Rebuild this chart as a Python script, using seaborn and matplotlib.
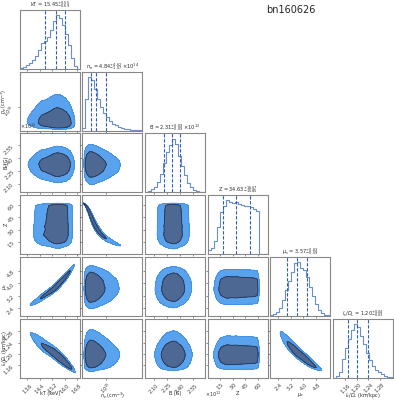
import numpy as np
import matplotlib
matplotlib.use("Agg")
import matplotlib.pyplot as plt
import seaborn as sns
from matplotlib.ticker import FixedLocator, NullLocator, ScalarFormatter, LogFormatterMathtext

# ------------------------------------------------------------------
# Values
# ------------------------------------------------------------------
axis_labels = ["kT (keV)", r"$n_{\rm e}$ (cm$^{-3}$)", "B (G)", "Z",
               r"$\mu_{\rm c}$", r"$l_{\rm c}/D_{\rm L}$ (km/kpc)"]
title_names = ["kT", r"$n_{\rm e}$", "B", "Z", r"$\mu_{\rm c}$", r"$l_{\rm c}/D_{\rm L}$"]

kT_range = [13.10, 16.97]
kT_counts = [20, 40, 80, 120, 170, 250, 350, 480, 520, 600,
             720, 900, 1000, 950, 820, 660, 450, 200, 60, 10]
kT_median_err = [15.45, 0.69, 0.55]
kT_ticks = [13.6, 14.4, 15.2, 16.0, 16.8]

ne_log_range = [14.25, 16.12]
ne_counts = [50, 600, 1000, 950, 780, 600, 450, 330, 250, 180,
             130, 100, 70, 50, 40, 30, 20, 15, 10, 5]
ne_median_err = [4.84, 1.57, 4.62]   # in units of 1e14
ne_exp = 14
ne_ticks = [1e15]

B_range = [2.00e12, 2.69e12]
B_counts = [10, 30, 60, 100, 200, 350, 550, 750, 880, 1000,
            900, 680, 500, 320, 180, 100, 50, 20, 10, 5]
B_median_err = [2.31, 0.09, 0.09]    # in units of 1e12
B_exp = 12
B_ticks = [2.10e12, 2.25e12, 2.40e12, 2.55e12]

Z_range = [0.0, 72.0]
Z_counts = [80, 120, 250, 500, 780, 900, 1000, 970, 950, 980,
            930, 920, 900, 890, 880, 850, 800, 0, 0, 0]
Z_median_err = [34.63, 15.85, 16.57]
Z_ticks = [15, 30, 45, 60]

mu_range = [1.89, 5.70]
mu_counts = [10, 40, 80, 150, 300, 480, 650, 820, 980, 1000,
             900, 860, 720, 540, 370, 230, 110, 50, 20, 10]
mu_median_err = [3.57, 0.59, 0.63]
mu_ticks = [2.4, 3.2, 4.0, 4.8]

lD_range = [1.117, 1.325]
lD_counts = [0, 30, 100, 350, 550, 720, 880, 1000, 950, 780,
             620, 450, 320, 220, 150, 100, 60, 30, 15, 5]
lD_median_err = [1.20, 0.03, 0.04]
lD_ticks = [1.16, 1.20, 1.24, 1.28]

# pairwise correlations (row, col) of the lower-triangle panels
pair_corr = {(1, 0): -0.05,
             (2, 0): 0.0, (2, 1): -0.05,
             (3, 0): 0.02, (3, 1): -0.985, (3, 2): 0.0,
             (4, 0): 0.976, (4, 1): 0.0, (4, 2): 0.02, (4, 3): 0.0,
             (5, 0): -0.94, (5, 1): 0.0, (5, 2): 0.0, (5, 3): 0.0, (5, 4): -0.946}

contour_mass = [0.62, 0.90]   # enclosed probability of the two contours

# ------------------------------------------------------------------
HIST_C = "#6a8fcf"
QLINE_C = "#2f5fb0"
LIGHT_C = "#59a3ee"
LEDGE_C = "#3b8ae0"
DARK_C = "#4d6892"
OUT_C = "#223659"
FRAME_C = "#888888"

sns.set_theme(style="ticks")
plt.rcParams['font.family'] = ['DejaVu Sans']
plt.rcParams['mathtext.fontset'] = 'dejavusans'

variables = [
    dict(rng=kT_range, counts=kT_counts, q=kT_median_err, scale=1.0, exp=None, ticks=kT_ticks, log=False),
    dict(rng=ne_log_range, counts=ne_counts, q=ne_median_err, scale=10.0 ** ne_exp, exp=ne_exp, ticks=ne_ticks, log=True),
    dict(rng=B_range, counts=B_counts, q=B_median_err, scale=10.0 ** B_exp, exp=B_exp, ticks=B_ticks, log=False),
    dict(rng=Z_range, counts=Z_counts, q=Z_median_err, scale=1.0, exp=None, ticks=Z_ticks, log=False),
    dict(rng=mu_range, counts=mu_counts, q=mu_median_err, scale=1.0, exp=None, ticks=mu_ticks, log=False),
    dict(rng=lD_range, counts=lD_counts, q=lD_median_err, scale=1.0, exp=None, ticks=lD_ticks, log=False),
]
K = len(variables)

# standard normal CDF table (for the Gaussian copula of the 2-D panels)
z_tab = np.linspace(-6, 6, 3001)
phi_tab = np.cumsum(np.exp(-0.5 * z_tab ** 2))
phi_tab /= phi_tab[-1]

NG = 180


def marginal(v):
    lo, hi = v['rng']
    n = len(v['counts'])
    edges = np.linspace(lo, hi, n + 1)
    centers = 0.5 * (edges[1:] + edges[:-1])
    g = np.linspace(lo, hi, NG)
    f = np.interp(g, np.r_[lo, centers, hi], np.r_[0.0, np.asarray(v['counts'], float), 0.0])
    F = np.cumsum(f)
    F /= F[-1]
    F = np.clip(F, 1e-9, 1 - 1e-9)
    u = np.interp(F, phi_tab, z_tab)
    plot_g = 10.0 ** g if v['log'] else g
    return plot_g, f, u


margs = [marginal(v) for v in variables]


def lims(v):
    lo, hi = v['rng']
    return (10.0 ** lo, 10.0 ** hi) if v['log'] else (lo, hi)


def style_axis(axis, v, show_labels):
    if v['log']:
        axis.set_major_locator(FixedLocator(v['ticks']))
        axis.set_major_formatter(LogFormatterMathtext())
        axis.set_minor_locator(NullLocator())
    else:
        axis.set_major_locator(FixedLocator(v['ticks']))
        fmt = ScalarFormatter(useMathText=True)
        axis.set_major_formatter(fmt)
    if not show_labels:
        axis.set_ticklabels([])
        axis.offsetText.set_visible(False)
    else:
        axis.offsetText.set_fontsize(3.5)


fig, axes = plt.subplots(K, K, figsize=(3.94, 4.0), dpi=100)
fig.subplots_adjust(left=0.05, right=0.997, bottom=0.056, top=0.975, wspace=0.045, hspace=0.045)

for i in range(K):
    for j in range(K):
        ax = axes[i, j]
        if j > i:
            ax.set_visible(False)
            continue
        vx = variables[j]
        if i == j:
            lo, hi = vx['rng']
            n = len(vx['counts'])
            edges = np.linspace(lo, hi, n + 1)
            centers = 0.5 * (edges[1:] + edges[:-1])
            if vx['log']:
                sns.histplot(x=10.0 ** centers, weights=vx['counts'], bins=n, binrange=(lo, hi),
                             log_scale=True, element="step", fill=False, color=HIST_C,
                             linewidth=0.8, ax=ax)
            else:
                sns.histplot(x=centers, weights=vx['counts'], bins=n, binrange=(lo, hi),
                             element="step", fill=False, color=HIST_C, linewidth=0.8, ax=ax)
            med, m, p = vx['q']
            for qv in [med - m, med, med + p]:
                ax.axvline(qv * vx['scale'], ls=(0, (3, 1.5)), color=QLINE_C, lw=0.8)
            title = f"{title_names[j]} = ${med:.2f}^{{+{p:.2f}}}_{{-{m:.2f}}}$"
            if vx['exp'] is not None:
                title += rf" $\times10^{{{vx['exp']}}}$"
            ax.set_title(title, fontsize=3.6, pad=0.3)
            ax.set_xlim(*lims(vx))
            ax.set_ylim(0, 1.1 * max(vx['counts']))
            ax.set_yticks([])
            ax.set_ylabel("")
            ax.set_xlabel("")
        else:
            vy = variables[i]
            gx, fx, ux = margs[j]
            gy, fy, uy = margs[i]
            rho = pair_corr[(i, j)]
            U = ux[None, :]
            V = uy[:, None]
            with np.errstate(divide="ignore", invalid="ignore"):
                logc = -(rho ** 2 * (U ** 2 + V ** 2) - 2 * rho * U * V) / (2 * (1 - rho ** 2)) \
                    - 0.5 * np.log(1 - rho ** 2)
                logd = logc + np.log(fx)[None, :] + np.log(fy)[:, None]
            logd = np.where(np.isfinite(logd), logd, -np.inf)
            D = np.exp(logd - logd.max())
            s = np.sort(D.ravel())[::-1]
            cs = np.cumsum(s) / s.sum()
            t_in = s[np.searchsorted(cs, contour_mass[0])]
            t_out = s[np.searchsorted(cs, contour_mass[1])]
            X, Y = np.meshgrid(gx, gy)
            if vx['log']:
                ax.set_xscale('log')
            if vy['log']:
                ax.set_yscale('log')
            ax.contourf(X, Y, D, levels=[t_out, t_in, 1.01], colors=[LIGHT_C, DARK_C])
            ax.contour(X, Y, D, levels=[t_out], colors=[LEDGE_C], linewidths=0.5)
            ax.contour(X, Y, D, levels=[t_in], colors=[OUT_C], linewidths=0.6)
            ax.set_xlim(*lims(vx))
            ax.set_ylim(*lims(vy))
            style_axis(ax.yaxis, vy, j == 0)

        style_axis(ax.xaxis, vx, i == K - 1)
        if i == K - 1 and vx['exp'] is not None and not vx['log']:
            # multiplier placed just right of the tick labels, as in the reference
            ax.xaxis.offsetText.set_visible(False)
            ax.text(1.0, -0.2, rf"$\times10^{{{vx['exp']}}}$", transform=ax.transAxes,
                    ha="left", va="top", fontsize=3.5, color="#333333")
        if i == j:
            ax.yaxis.set_major_locator(NullLocator())
            ax.yaxis.set_minor_locator(NullLocator())
        ax.tick_params(axis='both', which='both', length=1.5, width=0.4, pad=1,
                       labelsize=3.5, colors="#333333")
        ax.tick_params(axis='x', labelrotation=45)
        ax.tick_params(axis='y', labelrotation=45)
        for sp in ax.spines.values():
            sp.set_visible(True)
            sp.set_color(FRAME_C)
            sp.set_linewidth(0.8)
        if i == K - 1:
            ax.set_xlabel(axis_labels[j], fontsize=3.5)
            ax.xaxis.set_label_coords(0.5, -0.22)
        elif i != j:
            ax.set_xlabel("")
        if j == 0 and i > 0:
            ax.set_ylabel(axis_labels[i], fontsize=3.5)
            ax.yaxis.set_label_coords(-0.175, 0.5)
        elif i != j:
            ax.set_ylabel("")

fig.text(0.739, 0.975, "bn160626", fontsize=7, ha="center", va="center")

fig.savefig("out.png", dpi=100)
